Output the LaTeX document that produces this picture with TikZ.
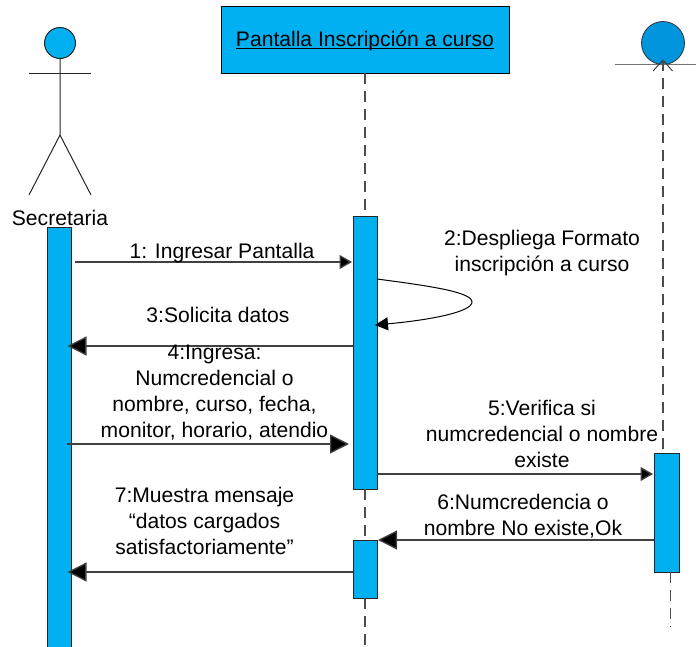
\documentclass[tikz,border=0pt]{standalone}
\usepackage{fontspec}
\setmainfont{Liberation Sans}
\usetikzlibrary{arrows.meta}
\newcommand\ulinetext[1]{\setbox0\hbox{#1}\rlap{\rule[-2.8pt]{\wd0}{1pt}}\box0}
\tikzset{
  x=1pt,y=-1pt,
  bar/.style={draw=black!85,line width=1pt,fill=cyanfill,minimum width=24pt,inner sep=0pt,outer sep=0pt},
  lbl/.style={inner sep=0pt,align=center,font=\fontsize{21.1}{26}\selectfont},
  msg/.style={draw=black!75,line width=1.3pt,-{Triangle[length=19pt,width=19pt,fill=black]}},
  msgs/.style={draw=black!75,line width=1.3pt,-{Triangle[length=12.5pt,width=14pt,fill=black]}},
  life/.style={draw=black!70,line width=1.2pt,dash pattern=on 11pt off 7pt},
  fig/.style={draw=black!85,line width=1pt},
}
\definecolor{cyanfill}{HTML}{00B0F0}
\definecolor{bluefill}{HTML}{0095DD}
\begin{document}
\begin{tikzpicture}
\useasboundingbox (0,0) rectangle (696,646);
\coordinate (b) at (365,646);
\coordinate (rb) at (670.5,627);
\node[draw=black,line width=1pt,fill=cyanfill,minimum width=288pt,minimum height=67pt,inner sep=0pt,outer sep=0pt] (screen) at (365,39.5) {};
\node[lbl,anchor=base] (title) at (365,46) {\ulinetext{Pantalla Inscripción a curso}};
% actor
\node[circle,fig,fill=cyanfill,minimum size=31pt,inner sep=0pt,outer sep=0pt] (head) at (60,43) {};
\coordinate (hip) at (60,135);
\coordinate (armL) at (29,73);
\coordinate (armR) at (91,73);
\coordinate (legL) at (29,195);
\coordinate (legR) at (91,195);
\draw[fig] (head.south) -- (hip) -- (legL);
\draw[fig] (hip) -- (legR);
\draw[fig] (armL) -- (armR);
% activation bars
\node[bar,minimum height=423pt] (secbar) at (59.5,439) {};
\node[lbl,anchor=base] (sec) at (60,225) {Secretaria};
\node[bar,minimum height=273pt] (a1) at (365,352.5) {};
\node[bar,minimum height=58pt] (a2) at (365,569) {};
\node[bar,minimum width=25pt,minimum height=119pt] (r1) at (666.5,512.5) {};
% boundary object
\node[circle,draw=black!80,line width=.8pt,fill=bluefill,minimum width=43pt,inner sep=0pt,outer sep=0pt] (obj) at (663,43) {};
\coordinate (gL) at (615,64.5);
\coordinate (gR) at (696,64.5);
\coordinate (tipL) at (653,71);
\coordinate (tipR) at (672.5,71);
\coordinate (tip) at (663,60);
\draw[draw=black!55,line width=1pt] (gL) -- (gR);
\draw[draw=black!80,line width=.9pt] (tipL) -- (tip) -- (tipR);
% lifelines
\draw[life] (screen.south) -- (a1.north);
\draw[life] (a1.south) -- (a2.north);
\draw[life] (a2.south) -- (b);
\draw[life] (tip) -- (r1.north -| tip);
\draw[life] (r1.south -| rb) -- (rb);
% messages
\draw[msgs] ([xshift=3pt]secbar.east |- 0,262) -- ([xshift=-1pt]a1.west |- 0,262);
\draw[draw=black,line width=1pt,-{Triangle[length=13pt,width=13pt]}] (a1.east |- 0,279) .. controls (430,286) and (472,292) .. (472,302) .. controls (472,312) and (430,320) .. ([xshift=-2pt]a1.east |- 0,325);
\draw[msg] (a1.west |- 0,346) -- ([xshift=-4pt]secbar.east |- 0,346);
\draw[msg] ([xshift=-5pt]secbar.east |- 0,444) -- ([xshift=-4pt]a1.west |- 0,444);
\draw[msgs] (a1.east |- 0,474) -- ([xshift=-1pt]r1.west |- 0,474);
\draw[msg] (r1.west |- 0,540) -- ([xshift=1pt]a1.east |- 0,540);
\draw[msg] (a2.west |- 0,572) -- ([xshift=-4pt]secbar.east |- 0,572);
% labels
\node[lbl,anchor=base] (m1) at (222,258) {1: Ingresar Pantalla};
\node[lbl,anchor=base] (m2) at (542,271) {2:Despliega Formato\\inscripción a curso};
\node[lbl,anchor=base] (m3) at (218,322) {3:Solicita datos};
\node[lbl,anchor=base] (m4) at (214.5,437) {4:Ingresa:\\Numcredencial o\\nombre, curso, fecha,\\monitor, horario, atendio};
\node[lbl,anchor=base] (m5) at (542,467) {5:Verifica si\\numcredencial o nombre\\existe};
\node[lbl,anchor=base] (m6) at (523,535) {6:Numcredencia o\\nombre No existe,Ok};
\node[lbl,anchor=base] (m7) at (204.5,554) {7:Muestra mensaje\\“datos cargados\\satisfactoriamente”};
\end{tikzpicture}
\end{document}
